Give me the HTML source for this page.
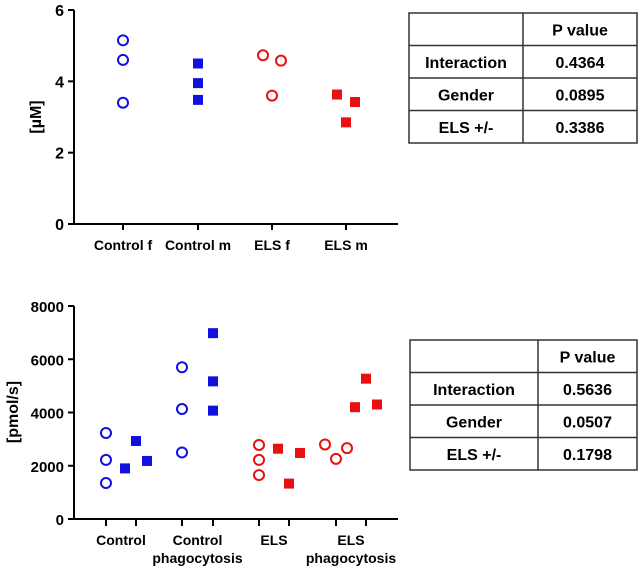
<!DOCTYPE html>
<html><head><meta charset="utf-8"><style>
body{margin:0;background:#fff;width:640px;height:570px;overflow:hidden}
svg{display:block;font-family:"Liberation Sans",Arial,sans-serif;font-weight:bold}
</style></head><body>
<svg id="s" width="640" height="570">
<g id="g1"></g>
<g id="g2"></g>
<g id="t1"></g>
<g id="t2"></g>
</svg>
<script>
// Top chart data
const topTicks=[0,2,4,6];
const topCats=["Control f","Control m","ELS f","ELS m"];
const topVals=[[5.15,4.6,3.4],[4.5,3.95,3.48],[4.73,4.58,3.6],[3.63,3.42,2.85]];
const topJit=[[0,0,0],[0,0,0],[-1,1,0],[-1,1,0]];
// Bottom chart data
const botTicks=[0,2000,4000,6000,8000];
const botGroups=["Control","Control phagocytosis","ELS","ELS phagocytosis"];
const botVals=[[3230,2220,1350],[2930,1900,2180],[5700,4130,2500],[6980,5170,4070],[2780,2220,1650],[2640,1330,2480],[2800,2260,2660],[4200,5270,4300]];
const botJit=[[0,0,0],[0,-1,1],[0,0,0],[0,0,0],[0,0,0],[-1,0,1],[-1,0,1],[-1,0,1]];
// Tables
const rowNames=["Interaction","Gender","ELS +/-"];
const p1=["0.4364","0.0895","0.3386"];
const p2=["0.5636","0.0507","0.1798"];

const NS="http://www.w3.org/2000/svg";
function mk(p,t,a,txt){const e=document.createElementNS(NS,t);for(const k in a)e.setAttribute(k,a[k]);if(txt!=null)e.textContent=txt;p.appendChild(e);return e;}
const BLUE="#1010e0",RED="#e81010";
function marker(g,x,y,open,col){
  let e;
  if(open){e=mk(g,"circle",{cx:x,cy:y,r:5,fill:"none",stroke:col,"stroke-width":2});}
  else{e=mk(g,"rect",{x:x-5,y:y-5,width:10,height:10,fill:col});}
  
  
}
// top chart
(function(){
  const g=document.getElementById('g1');
  const y=v=>224-v*(214/6);
  const xs=[123,198,272,346];
  const a=mk(g,"path",{d:"M74,10V224H398",stroke:"#000","stroke-width":2,fill:"none"});
  
  topTicks.forEach(t=>{mk(g,"line",{x1:68,x2:74,y1:y(t),y2:y(t),stroke:"#000","stroke-width":2});
    const l=mk(g,"text",{x:64,y:y(t)+6,"text-anchor":"end","font-size":16},t);
    });
  topCats.forEach((c,i)=>{mk(g,"line",{x1:xs[i],x2:xs[i],y1:224,y2:230,stroke:"#000","stroke-width":2});
    const l=mk(g,"text",{x:xs[i],y:250,"text-anchor":"middle","font-size":14},c);
    
    topVals[i].forEach((v,j)=>marker(g,xs[i]+topJit[i][j]*9,y(v),i%2==0,i<2?BLUE:RED));});
  const yt=mk(g,"text",{x:0,y:0,"text-anchor":"middle","font-size":16,transform:"translate(41,117) rotate(-90)"},"[µM]");
  
})();
// bottom chart
(function(){
  const g=document.getElementById('g2');
  const y=v=>519-v*(213/8000);
  const xs=[106,136,182,213,259,289,336,366];
  const a=mk(g,"path",{d:"M74,306V519H398",stroke:"#000","stroke-width":2,fill:"none"});
  
  botTicks.forEach(t=>{mk(g,"line",{x1:68,x2:74,y1:y(t),y2:y(t),stroke:"#000","stroke-width":2});
    const l=mk(g,"text",{x:64,y:y(t)+6,"text-anchor":"end","font-size":15},t);
    });
  xs.forEach((x,i)=>{mk(g,"line",{x1:x,x2:x,y1:519,y2:526,stroke:"#000","stroke-width":2});
    botVals[i].forEach((v,j)=>marker(g,x+botJit[i][j]*11,y(v),i%2==0,i<4?BLUE:RED));});
  botGroups.forEach((c,i)=>{const cx=(xs[2*i]+xs[2*i+1])/2;const w=c.split(" ");
    w.forEach((s,k)=>{const l=mk(g,"text",{x:cx,y:545+k*18,"text-anchor":"middle","font-size":14},s);
      });});
  const yt=mk(g,"text",{x:0,y:0,"text-anchor":"middle","font-size":16,transform:"translate(18,412) rotate(-90)"},"[pmol/s]");
  
})();
function table(id,x0,x1,xc,y0,vals){
  const g=document.getElementById(id);const rh=32.5;
  mk(g,"rect",{x:x0,y:y0,width:x1-x0,height:rh*4,fill:"#fff",stroke:"#333","stroke-width":1.5});
  mk(g,"line",{x1:xc,x2:xc,y1:y0,y2:y0+rh*4,stroke:"#333","stroke-width":1.5});
  for(let r=1;r<4;r++)mk(g,"line",{x1:x0,x2:x1,y1:y0+r*rh,y2:y0+r*rh,stroke:"#333","stroke-width":1.5});
  const h=mk(g,"text",{x:(xc+x1)/2,y:y0+rh/2+6,"text-anchor":"middle","font-size":16},"P value");
  
  rowNames.forEach((n,i)=>{const yy=y0+(i+1.5)*rh+6;
    const a=mk(g,"text",{x:(x0+xc)/2,y:yy,"text-anchor":"middle","font-size":16},n);
    
    const b=mk(g,"text",{x:(xc+x1)/2,y:yy,"text-anchor":"middle","font-size":16},vals[i]);
    });
}
table('t1',409,637,523,13,p1);
table('t2',410,637,538,340,p2);
</script>
</body></html>
